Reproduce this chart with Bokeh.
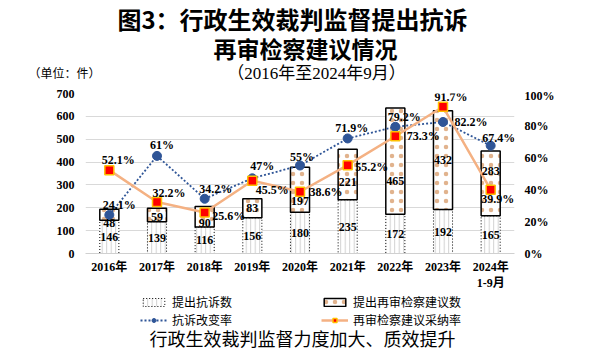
from bokeh.plotting import figure
from bokeh.layouts import column
from bokeh.models import (ColumnDataSource, Range1d, LinearAxis, FactorRange, Label,
                          LabelSet, Legend, LegendItem, FixedTicker, PrintfTickFormatter)
from bokeh.core.properties import value
from bokeh.transform import stack
from bokeh.embed import file_html
from bokeh.resources import INLINE

# ---------------- data ----------------
years = ["2016年", "2017年", "2018年", "2019年", "2020年", "2021年", "2022年", "2023年", "2024年\n1-9月"]
appeals = [146, 139, 116, 156, 180, 235, 172, 192, 165]          # 提出抗诉数
retrial = [48, 59, 90, 83, 197, 221, 465, 432, 283]              # 提出再审检察建议数
change_rate = [24.1, 61, 34.2, 47, 55, 71.9, 79.2, 82.2, 67.4]   # 抗诉改变率 (%)
adopt_rate = [52.1, 32.2, 25.6, 45.5, 38.6, 55.2, 73.3, 91.7, 39.9]  # 再审检察建议采纳率 (%)
left_ticks = [0, 100, 200, 300, 400, 500, 600, 700]
right_ticks = [0, 20, 40, 60, 80, 100]

# label placement (pixel offsets, style only)
change_dx = [10, 5, 11, 10, 2, 4, 9, 28, 8]
change_dy = [10, 11, 10, 12, 9, 10, 10, 0, 8]
adopt_dx = [9, 12, 24, 20, 26, 24, 28, 8, 7]
adopt_dy = [10, 9, -3, -9, 0, -2, 0, 10, -9]
retrial_dy = [-8, -2, -6, 0, -11, -7, -20, 0, 12]

SERIF = "Liberation Serif, Noto Sans CJK SC"
CJK = "Noto Sans CJK SC"
FRAME_LEFT = 85

# styles
APP_STYLE = dict(fill_color="white", line_color="black", line_dash="1 2", line_width=1,
                 hatch_pattern="vertical_line", hatch_color="#c4c4c4", hatch_scale=4.5, hatch_weight=0.8)
RET_STYLE = dict(fill_color="white", line_color="black", line_width=1.5,
                 hatch_pattern="dot", hatch_color="#d9a070", hatch_scale=9, hatch_weight=0.3,
                 hatch_alpha=0.8)
CHG_LINE = dict(line_color="#2F5597", line_dash="2 2", line_width=1.8)
ADP_LINE = dict(line_color="#F4B183", line_width=2.5)
CHG_MARK = dict(marker="circle", size=9, fill_color="#2F5597", line_color="#2F5597")
ADP_MARK = dict(marker="square", size=9, fill_color="#FF0000", line_color="#FFC000", line_width=1.5)

src = ColumnDataSource(dict(
    year=years, appeals=appeals, retrial=retrial,
    appeals_mid=[a / 2 for a in appeals],
    retrial_mid=[a + r / 2 for a, r in zip(appeals, retrial)],
    change=change_rate, adopt=adopt_rate,
    change_lbl=[f"{v:g}%" for v in change_rate],
    adopt_lbl=[f"{v:g}%" for v in adopt_rate],
    appeals_lbl=[str(v) for v in appeals],
    retrial_lbl=[str(v) for v in retrial],
    cdx=change_dx, cdy=change_dy, adx=adopt_dx, ady=adopt_dy, rdy=retrial_dy,
))


def note(f, text, x, y, size, style="normal", font=CJK):
    # x given in page pixels; screen units are relative to the (aligned) frame's left edge
    f.add_layout(Label(x=x - FRAME_LEFT, y=y, x_units="screen", y_units="screen", text=text,
                       text_font=font, text_font_size=size, text_font_style=style,
                       text_align="center", text_baseline="middle", text_color="black"))


# ---------------- title block ----------------
TOP_H = 88
top = figure(width=598, height=TOP_H, x_range=Range1d(0, 1), y_range=Range1d(0, TOP_H),
             output_backend="svg", toolbar_location=None, x_axis_location=None,
             min_border_left=FRAME_LEFT, min_border_right=84, min_border_top=0, min_border_bottom=0)
top.outline_line_color = None
top.grid.visible = False
top.yaxis.ticker = FixedTicker(ticks=[TOP_H - 72])
top.yaxis.major_label_overrides = {TOP_H - 72: "（单位：件）"}
top.yaxis.axis_line_color = None
top.yaxis.major_tick_line_color = None
top.yaxis.minor_tick_line_color = None
top.yaxis.major_label_text_font = CJK
top.yaxis.major_label_text_font_size = "12px"
top.yaxis.major_label_text_color = "black"
top.yaxis.major_label_standoff = -21
note(top, "图3：行政生效裁判监督提出抗诉", 292, TOP_H - 18, "24px", "bold")
note(top, "再审检察建议情况", 305, TOP_H - 47, "23px", "bold")
note(top, "（2016年至2024年9月）", 316, TOP_H - 73, "17px", "normal", SERIF)

# ---------------- main chart ----------------
MAIN_H = 206
p = figure(width=598, height=MAIN_H, x_range=FactorRange(factors=years, range_padding=0),
           y_range=Range1d(0, 700), output_backend="svg", toolbar_location=None,
           min_border_left=FRAME_LEFT, min_border_right=84, min_border_top=5, min_border_bottom=41)
p.extra_y_ranges = {"pct": Range1d(0, 100)}
p.outline_line_color = None

p.yaxis.ticker = FixedTicker(ticks=left_ticks)
right = LinearAxis(y_range_name="pct", ticker=FixedTicker(ticks=right_ticks),
                   formatter=PrintfTickFormatter(format="%d%%"))
p.add_layout(right, "right")
for ax, so in [(p.yaxis[0], 5), (right, 4)]:
    ax.axis_line_color = None
    ax.major_tick_line_color = None
    ax.minor_tick_line_color = None
    ax.major_label_text_font = SERIF
    ax.major_label_text_font_style = "bold"
    ax.major_label_text_font_size = "12px"
    ax.major_label_text_color = "black"
    ax.major_label_standoff = so
p.xaxis.axis_line_color = "#d0d0d0"
p.xaxis.major_tick_line_color = None
p.xaxis.minor_tick_line_color = None
p.xaxis.major_label_text_font = SERIF
p.xaxis.major_label_text_font_style = "bold"
p.xaxis.major_label_text_font_size = "12px"
p.xaxis.major_label_text_color = "black"
p.xaxis.major_label_standoff = 0
p.xgrid.grid_line_color = None
p.ygrid.grid_line_color = "#d9d9d9"

p.vbar(x="year", bottom=stack(), top=stack("appeals"), width=0.4, source=src, **APP_STYLE)
p.vbar(x="year", bottom=stack("appeals"), top=stack("appeals", "retrial"), width=0.4,
       source=src, **RET_STYLE)
p.line(x="year", y="change", y_range_name="pct", source=src, **CHG_LINE)
p.line(x="year", y="adopt", y_range_name="pct", source=src, **ADP_LINE)
p.scatter(x="year", y="change", y_range_name="pct", source=src, **CHG_MARK)
p.scatter(x="year", y="adopt", y_range_name="pct", source=src, **ADP_MARK)

lab_kw = dict(source=src, text_font=value(SERIF), text_font_style="bold", text_font_size="12px",
              text_color="black", text_align="center", text_baseline="middle")
p.add_layout(LabelSet(x="year", y="appeals_mid", text="appeals_lbl", **lab_kw))
p.add_layout(LabelSet(x="year", y="retrial_mid", text="retrial_lbl", y_offset="rdy", **lab_kw))
p.add_layout(LabelSet(x="year", y="change", y_range_name="pct", text="change_lbl",
                      x_offset="cdx", y_offset="cdy", **lab_kw))
p.add_layout(LabelSet(x="year", y="adopt", y_range_name="pct", text="adopt_lbl",
                      x_offset="adx", y_offset="ady", **lab_kw))

# ---------------- legend + footer block ----------------
BOT_H = 350 - TOP_H - MAIN_H
# the legend's sample glyphs come from hidden renderers of the same data
bot = figure(width=598, height=BOT_H, x_range=p.x_range, y_range=Range1d(0, 700),
             output_backend="svg", toolbar_location=None, x_axis_location=None,
             y_axis_location=None, min_border_left=FRAME_LEFT, min_border_right=84,
             min_border_top=0, min_border_bottom=0)
bot.outline_line_color = None
bot.grid.visible = False
g_app = bot.vbar(x="year", bottom=stack(), top=stack("appeals"), width=0.4, source=src,
                 visible=False, **APP_STYLE)
g_ret = bot.vbar(x="year", bottom=stack("appeals"), top=stack("appeals", "retrial"), width=0.4,
                 source=src, visible=False, **RET_STYLE)
g_chg_l = bot.line(x="year", y="change", source=src, visible=False, **CHG_LINE)
g_chg_m = bot.scatter(x="year", y="change", source=src, visible=False, **CHG_MARK)
g_adp_l = bot.line(x="year", y="adopt", source=src, visible=False, **ADP_LINE)
g_adp_m = bot.scatter(x="year", y="adopt", source=src, visible=False, **ADP_MARK)

leg_kw = dict(orientation="horizontal", border_line_color=None, background_fill_alpha=0,
              padding=0, margin=0, spacing=0, glyph_width=27, glyph_height=10,
              label_width=149, label_height=16, label_standoff=5, label_text_font=CJK,
              label_text_font_size="12px", label_text_color="black")
leg1 = Legend(items=[LegendItem(label="提出抗诉数", renderers=[g_app]),
                     LegendItem(label="提出再审检察建议数", renderers=[g_ret])],
              location=(140 - FRAME_LEFT, BOT_H - 16), **leg_kw)
leg2 = Legend(items=[LegendItem(label="抗诉改变率", renderers=[g_chg_l, g_chg_m]),
                     LegendItem(label="再审检察建议采纳率", renderers=[g_adp_l, g_adp_m])],
              location=(140 - FRAME_LEFT, BOT_H - 34), **leg_kw)
bot.add_layout(leg1, "center")
bot.add_layout(leg2, "center")
note(bot, "行政生效裁判监督力度加大、质效提升", 302, 13, "18px", "normal")

layout = column(top, p, bot, spacing=0)
open("out.html", "w").write(file_html(layout, INLINE))
